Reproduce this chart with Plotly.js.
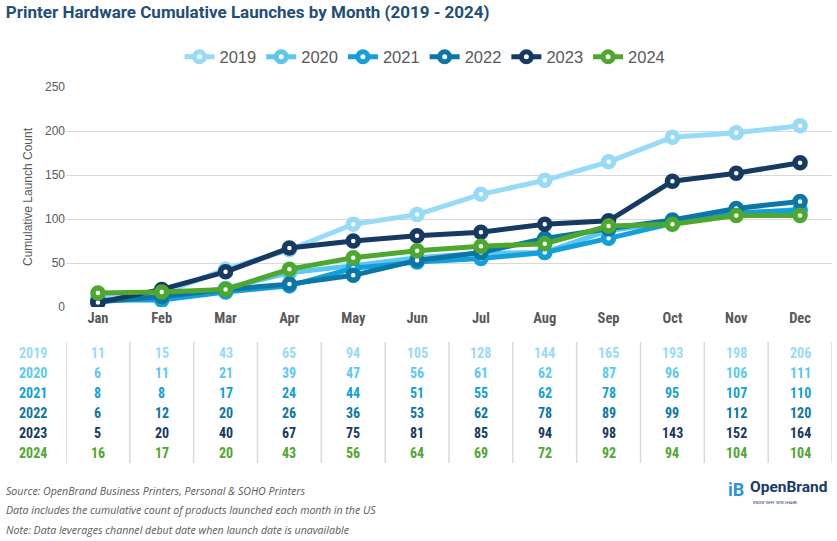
<!DOCTYPE html>
<html><head><meta charset="utf-8">
<script src="https://cdn.plot.ly/plotly-3.0.1.min.js"></script>
<style>body{margin:0;background:#fff}#chart{width:837px;height:541px}</style>
</head><body><div id="chart"></div>
<script>
const months = ["Jan","Feb","Mar","Apr","May","Jun","Jul","Aug","Sep","Oct","Nov","Dec"];
const years = ["2019","2020","2021","2022","2023","2024"];
const v2019 = [11,15,43,65,94,105,128,144,165,193,198,206];
const v2020 = [6,11,21,39,47,56,61,62,87,96,106,111];
const v2021 = [8,8,17,24,44,51,55,62,78,95,107,110];
const v2022 = [6,12,20,26,36,53,62,78,89,99,112,120];
const v2023 = [5,20,40,67,75,81,85,94,98,143,152,164];
const v2024 = [16,17,20,43,56,64,69,72,92,94,104,104];
const series = [v2019,v2020,v2021,v2022,v2023,v2024];
const colors = ["#97DBF7","#5CC8F2","#139FDA","#0C76A5","#163A62","#4EA72E"];

const W = 837, H = 541;
const L = 66, R = 5, T = 87, B = 234;
const plotH = H - T - B;
const py = y => (H - B - y) / plotH; // pixel y -> paper y
const pxp = x => (x - L) / (W - L - R);

const traces = series.map((vals, i) => ({
  type: "scatter", mode: "lines+markers", name: years[i],
  x: months, y: vals,
  line: {color: colors[i], width: 5},
  marker: {symbol: "circle", size: 10, color: "#ffffff", line: {color: colors[i], width: 5.5}},
  hoverinfo: "skip"
}));

const annotations = [];
const shapes = [];
const rowY = [352.7, 372.7, 392.7, 412.7, 432.7, 452.7];
const tableFont = "'Liberation Sans Narrow','Arial Narrow','Roboto Condensed',sans-serif";
years.forEach((yr, i) => {
  annotations.push({xref: "paper", yref: "paper", x: pxp(33), y: py(rowY[i]), text: "<b>" + yr + "</b>",
    showarrow: false, xanchor: "center", yanchor: "middle", font: {family: tableFont, size: 14, color: colors[i]}});
  series[i].forEach((v, j) => {
    annotations.push({xref: "x", yref: "paper", x: months[j], y: py(rowY[i]), text: "<b>" + v + "</b>",
      showarrow: false, xanchor: "center", yanchor: "middle", font: {family: tableFont, size: 14, color: colors[i]}});
  });
});
for (let k = 0; k <= 12; k++) {
  shapes.push({type: "line", xref: "x", yref: "paper", x0: k - 0.5, x1: k - 0.5, y0: py(342), y1: py(463),
    line: {color: "#D9D9D9", width: 1.5}});
}

const notes = ["Source: OpenBrand Business Printers, Personal &amp; SOHO Printers",
  "Data includes the cumulative count of products launched each month in the US",
  "Note: Data leverages channel debut date when launch date is unavailable"];
const noteY = [491, 510, 530];
notes.forEach((t, i) => annotations.push({xref: "paper", yref: "paper", x: pxp(4), y: py(noteY[i]),
  text: "<i>" + t + "</i>", showarrow: false, xanchor: "left", yanchor: "middle",
  font: {family: "'Open Sans', sans-serif", size: 10.6, color: "#595959"}}));

// logo
annotations.push({xref: "paper", yref: "paper", x: pxp(748), y: py(487), text: "<b>OpenBrand</b>",
  showarrow: false, xanchor: "left", yanchor: "middle", font: {family: "Roboto, sans-serif", size: 15.5, color: "#1B3A66"}});
annotations.push({xref: "paper", yref: "paper", x: pxp(751), y: py(502), text: "KNOW WHY. WIN SHARE.",
  showarrow: false, xanchor: "left", yanchor: "middle", font: {family: "Roboto, sans-serif", size: 4, color: "#1B3A66"}});
annotations.push({xref: "paper", yref: "paper", x: pxp(736), y: py(489), text: "<b>iB</b>",
  showarrow: false, xanchor: "center", yanchor: "middle", font: {family: "Roboto, sans-serif", size: 18, color: "#2F8FE0"}});

const layout = {
  width: W, height: H,
  margin: {l: L, r: R, t: T, b: B},
  paper_bgcolor: "#ffffff", plot_bgcolor: "#ffffff",
  title: {text: "<b>Printer Hardware Cumulative Launches by Month (2019 - 2024)</b>",
    x: 0.007, xanchor: "left", y: 0.978, yanchor: "middle",
    font: {family: "Roboto, sans-serif", size: 17, color: "#1F4E79"}},
  showlegend: true,
  legend: {orientation: "h", x: pxp(425), xanchor: "center", y: py(57), yanchor: "middle",
    font: {family: "'Liberation Sans', Arial, sans-serif", size: 16.5, color: "#595959"},
    itemwidth: 30, traceorder: "normal"},
  xaxis: {type: "category", range: [-0.5, 11.5], showgrid: false, zeroline: false, showline: false,
    ticks: "", tickfont: {family: tableFont, size: 14.5, color: "#595959"},
    tickvals: months, ticktext: months.map(m => "<b>" + m + "</b>"), fixedrange: true},
  yaxis: {range: [0, 250], tickvals: [0,50,100,150,200,250], showgrid: true, gridcolor: "#D9D9D9", gridwidth: 1,
    zeroline: false, showline: false, ticks: "", ticklen: 0,
    tickfont: {family: "'Liberation Sans', Arial, sans-serif", size: 12, color: "#595959"},
    title: {text: "Cumulative Launch Count", standoff: 9, font: {family: "'Liberation Sans', Arial, sans-serif", size: 12, color: "#595959"}}},
  annotations: annotations,
  shapes: shapes
};
Plotly.newPlot("chart", traces, layout, {displayModeBar: false, staticPlot: true});
</script></body></html>
